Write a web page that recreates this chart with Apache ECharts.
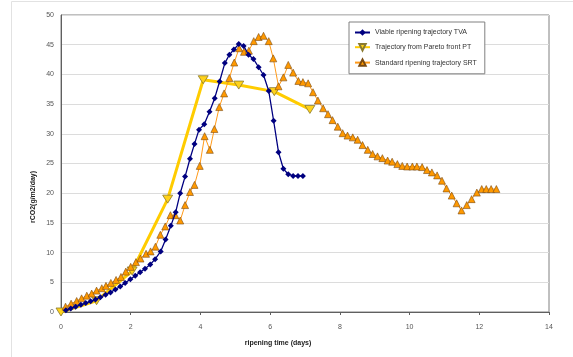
<!DOCTYPE html>
<html>
<head>
<meta charset="utf-8">
<script src="https://cdn.jsdelivr.net/npm/echarts@6/dist/echarts.min.js"></script>
<style>
  html, body { margin: 0; padding: 0; background: #fff; }
  #chart { width: 573px; height: 357px; }
</style>
</head>
<body>
<div id="chart"></div>
<script>
  // values
  const tvaDays = [0.14, 0.28, 0.42, 0.57, 0.71, 0.85, 0.99, 1.13, 1.28, 1.42, 1.56, 1.70, 1.84, 1.99, 2.13, 2.27, 2.41, 2.56, 2.70, 2.86,
    3.00, 3.15, 3.29, 3.42, 3.56, 3.70, 3.83, 3.96, 4.11, 4.26, 4.41, 4.55, 4.70, 4.83, 4.96, 5.10, 5.24, 5.38, 5.52, 5.67,
    5.81, 5.96, 6.10, 6.24, 6.38, 6.52, 6.66, 6.80, 6.94]
  const tvaRate = [0.3, 0.6, 0.9, 1.2, 1.5, 1.8, 2.1, 2.5, 2.9, 3.3, 3.8, 4.3, 4.9, 5.5, 6.1, 6.7, 7.3, 8.0, 8.9, 10.2,
    12.2, 14.5, 16.8, 20.0, 22.8, 25.8, 28.3, 30.7, 31.6, 33.7, 36.0, 38.8, 41.9, 43.3, 44.2, 45.1, 44.8, 43.3, 42.6, 41.2,
    39.9, 37.2, 32.2, 26.9, 24.1, 23.2, 22.9, 22.9, 22.9]

  const ptDays = [0, 1.02, 2.04, 3.06, 4.08, 5.1, 6.12, 7.14]
  const ptRate = [0, 1.9, 6.9, 19.0, 39.1, 38.2, 37.1, 34.1]

  const srtDays = [0.13, 0.29, 0.45, 0.59, 0.74, 0.88, 1.02, 1.17, 1.29, 1.43, 1.58, 1.72, 1.86, 2.00, 2.15, 2.28, 2.44, 2.57, 2.71, 2.85,
    2.99, 3.14, 3.28, 3.42, 3.56, 3.70, 3.83, 3.98, 4.12, 4.27, 4.40, 4.54, 4.68, 4.83, 4.97, 5.11, 5.25, 5.39, 5.53, 5.67,
    5.81, 5.96, 6.09, 6.24, 6.38, 6.52, 6.66, 6.81, 6.94, 7.09, 7.23, 7.37, 7.52, 7.66, 7.79, 7.94, 8.08, 8.22, 8.37, 8.51,
    8.65, 8.80, 8.94, 9.08, 9.22, 9.37, 9.50, 9.65, 9.79, 9.93, 10.08, 10.21, 10.36, 10.50, 10.64, 10.79, 10.93, 11.06, 11.21, 11.35,
    11.49, 11.64, 11.78, 11.93, 12.07, 12.20, 12.34, 12.49]
  const srtRate = [0.9, 1.4, 1.85, 2.3, 2.75, 3.1, 3.6, 4.0, 4.4, 4.9, 5.4, 5.9, 6.8, 7.6, 8.4, 9.0, 9.8, 10.2, 11.0, 13.0,
    14.4, 16.3, 16.3, 15.4, 18.0, 20.2, 21.4, 24.6, 29.6, 27.3, 30.8, 34.5, 36.8, 39.4, 42.0, 44.4, 43.8, 44.0, 45.6, 46.3,
    46.5, 45.6, 42.7, 38.0, 39.5, 41.6, 40.3, 38.9, 38.7, 38.5, 37.0, 35.6, 34.3, 33.3, 32.3, 31.2, 30.1, 29.7, 29.4, 29.0,
    28.1, 27.3, 26.6, 26.2, 25.9, 25.5, 25.3, 24.9, 24.6, 24.5, 24.5, 24.5, 24.4, 23.9, 23.5, 23.0, 22.1, 20.8, 19.6, 18.3,
    17.1, 18.0, 19.0, 20.1, 20.7, 20.7, 20.7, 20.7]

  const seriesNames = ['Viable ripening trajectory TVA', 'Trajectory from Pareto front PT', 'Standard ripening trajectory SRT']

  function pairs (xs, ys) {
    return xs.map((x, i) => [x, ys[i]])
  }

  const font = '"Liberation Sans", Arial, sans-serif'
  const chart = echarts.init(document.getElementById('chart'), null, { renderer: 'canvas' })

  const options = {
    animation: false,
    textStyle: { fontFamily: font },
    grid: {
      left: 61, top: 15, right: 24, bottom: 45,
      show: true, borderColor: '#808080', borderWidth: 1
    },
    legend: {
      orient: 'vertical',
      left: 349, top: 22,
      padding: [7, 8, 7, 5],
      itemGap: 7,
      itemWidth: 15,
      itemHeight: 8,
      backgroundColor: '#fff',
      borderColor: '#808080',
      borderWidth: 1,
      borderRadius: 0,
      textStyle: { fontSize: 7, color: '#333', fontFamily: font },
      data: seriesNames
    },
    xAxis: {
      type: 'value',
      min: 0, max: 14, interval: 2,
      axisLine: { onZero: false, lineStyle: { color: '#606060', width: 1 } },
      axisTick: { show: true, length: 3, lineStyle: { color: '#606060' } },
      axisLabel: { fontSize: 7, color: '#555', margin: 12 },
      splitLine: { show: false }
    },
    yAxis: {
      type: 'value',
      min: 0, max: 50, interval: 5,
      axisLine: { show: true, lineStyle: { color: '#606060', width: 1 } },
      axisTick: { show: false },
      axisLabel: { fontSize: 7, color: '#555', margin: 7 },
      splitLine: { lineStyle: { color: '#dcdcdc', width: 1 } }
    },
    graphic: [
      {
        type: 'polyline',
        shape: { points: [[11.5, 357], [11.5, 1.5], [573, 1.5]] },
        style: { stroke: '#e2e2e2', fill: null, lineWidth: 1 },
        silent: true
      },
      {
        type: 'text',
        x: 278, y: 343,
        style: { text: 'ripening time (days)', font: 'bold 7px ' + font, fill: '#222', align: 'center', verticalAlign: 'middle' }
      },
      {
        type: 'text',
        x: 33, y: 197,
        rotation: Math.PI / 2,
        style: { text: 'rCO2(g/m2/day)', font: 'bold 7px ' + font, fill: '#222', align: 'center', verticalAlign: 'middle' }
      }
    ],
    series: [
      {
        name: seriesNames[1],
        type: 'line',
        z: 2,
        data: pairs(ptDays, ptRate),
        lineStyle: { color: '#FFCC00', width: 3 },
        symbol: 'path://M0,0 L10,0 L5,8 Z',
        symbolSize: [10, 8],
        itemStyle: { color: '#FFD21A', borderColor: '#8a7a30', borderWidth: 0.8 }
      },
      {
        name: seriesNames[2],
        type: 'line',
        z: 3,
        data: pairs(srtDays, srtRate),
        lineStyle: { color: '#FF9A1A', width: 1 },
        symbol: 'triangle',
        symbolSize: [7, 7],
        itemStyle: { color: '#FF9900', borderColor: '#7a4a10', borderWidth: 0.6 }
      },
      {
        name: seriesNames[0],
        type: 'line',
        z: 4,
        data: pairs(tvaDays, tvaRate),
        lineStyle: { color: '#000080', width: 1.3 },
        symbol: 'diamond',
        symbolSize: 6,
        itemStyle: { color: '#000080', borderWidth: 0 }
      }
    ]
  }

  chart.setOption(options)
</script>
</body>
</html>
